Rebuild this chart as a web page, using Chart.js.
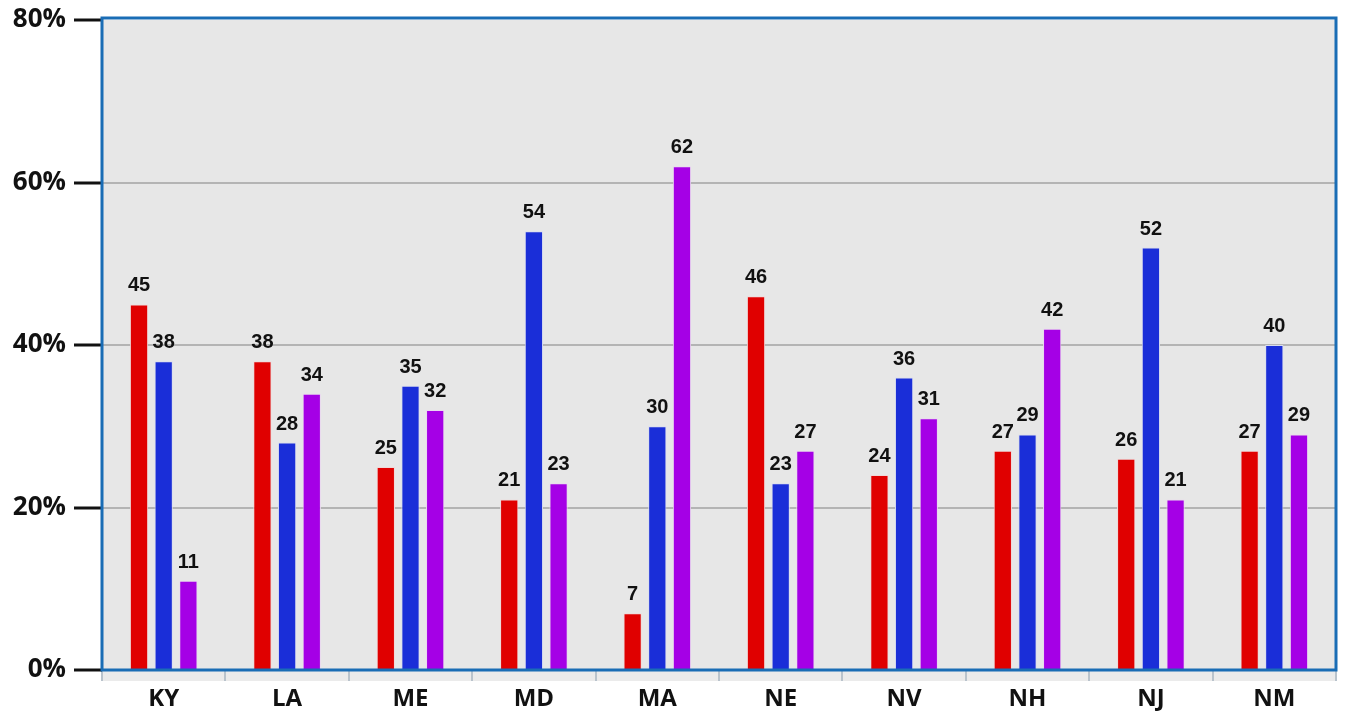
<!DOCTYPE html>
<html><head><meta charset="utf-8">
<script src="https://cdn.jsdelivr.net/npm/chart.js@4.4.1/dist/chart.umd.min.js"></script>
<style>html,body{margin:0;padding:0;background:#fff;}#wrap{width:1345px;height:712px;}</style>
</head><body><div id="wrap"><canvas id="c" width="1345" height="712"></canvas></div>
<script>
const categories = ['KY','LA','ME','MD','MA','NE','NV','NH','NJ','NM'];
const redValues = [45,38,25,21,7,46,24,27,26,27];
const blueValues = [38,28,35,54,30,23,36,29,52,40];
const purpleValues = [11,34,32,23,62,27,31,42,21,29];
const yTicks = [0,20,40,60,80];

const plotDeco = {
  id:'plotDeco',
  beforeDraw(chart){
    const {ctx, chartArea:a} = chart;
    ctx.save();
    ctx.fillStyle = '#e7e7e7';
    ctx.fillRect(a.left, a.top, a.right-a.left, a.bottom-a.top);
    ctx.fillStyle = '#ebebeb';
    ctx.fillRect(a.left, a.bottom, a.right-a.left, 11);
    ctx.restore();
  },
  afterDraw(chart){
    const {ctx, chartArea:a} = chart;
    ctx.save();
    ctx.strokeStyle = '#1a6db5';
    ctx.lineWidth = 3;
    ctx.strokeRect(a.left, a.top-2, a.right-a.left, a.bottom-a.top+2);
    ctx.fillStyle = '#111';
    ctx.font = 'bold 20px "Liberation Sans", Arial, sans-serif';
    ctx.textAlign = 'center';
    ctx.textBaseline = 'alphabetic';
    chart.data.datasets.forEach((ds, di) => {
      const meta = chart.getDatasetMeta(di);
      meta.data.forEach((bar, i) => {
        ctx.fillText(String(ds.data[i]), bar.x, bar.y - 13);
      });
    });
    ctx.restore();
  }
};

new Chart(document.getElementById('c'), {
  type:'bar',
  data:{
    labels: categories,
    datasets:[
      {data: redValues, backgroundColor:'#e00000', borderColor:'#f0d8d8', borderWidth:1},
      {data: blueValues, backgroundColor:'#1a2ed8', borderColor:'#d8dcf0', borderWidth:1},
      {data: purpleValues, backgroundColor:'#a500e6', borderColor:'#ead8f0', borderWidth:1}
    ]
  },
  options:{
    responsive:false,
    animation:false,
    devicePixelRatio:1,
    layout:{padding:{top:20, right:9, left:0, bottom:0}},
    plugins:{legend:{display:false}, tooltip:{enabled:false}},
    datasets:{bar:{categoryPercentage:0.6, barPercentage:0.74}},
    scales:{
      x:{
        offset:true,
        grid:{drawOnChartArea:false, drawTicks:true, tickLength:11, color:'#b9c3cc', lineWidth:2, offset:true},
        border:{display:false},
        ticks:{color:'#111', font:{family:'"Open Sans", sans-serif', size:24, weight:'bold'}, padding:4, maxRotation:0},
        afterFit(s){ s.height = 42; }
      },
      y:{
        min:0, max:80,
        afterBuildTicks(s){ s.ticks = yTicks.map(v=>({value:v})); },
        grid:{color:(c)=> (c.tick.value===0||c.tick.value===80)?'rgba(0,0,0,0)':'#b4b4b4', lineWidth:2, tickLength:28, tickColor:'#111', tickWidth:3},
        border:{display:false},
        ticks:{color:'#111', padding:8, font:{family:'"Open Sans", sans-serif', size:26, weight:'bold', lineHeight:1}, callback:(v)=>v+'%'},
        afterFit(s){ s.width = 102; s.paddingTop = 0; s.paddingBottom = 0; }
      }
    }
  },
  plugins:[plotDeco]
});
</script></body></html>
